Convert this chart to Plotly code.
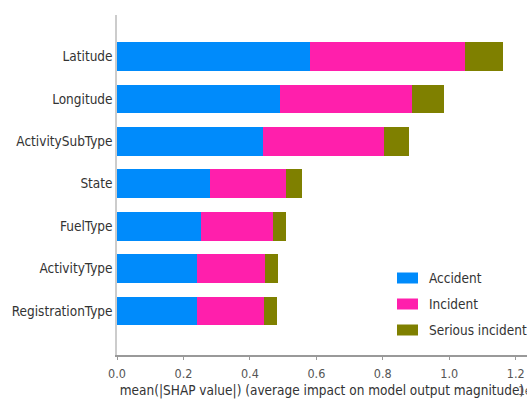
import plotly.graph_objects as go

# Features, bottom to top
features = ["RegistrationType", "ActivityType", "FuelType", "State",
            "ActivitySubType", "Longitude", "Latitude"]

# Mean |SHAP| per class
accident = [0.241, 0.241, 0.253, 0.279, 0.439, 0.491, 0.580]
incident = [0.202, 0.205, 0.217, 0.229, 0.365, 0.398, 0.468]
serious = [0.040, 0.040, 0.039, 0.050, 0.075, 0.095, 0.115]

class_names = ["Accident", "Incident", "Serious incident"]
class_colors = ["#008bfb", "#ff1fac", "#7f8000"]
x_ticks = [0.0, 0.2, 0.4, 0.6, 0.8, 1.0, 1.2]

FONT = "DejaVu Sans Condensed, Liberation Sans Narrow, sans-serif"
TXT = "#333333"

fig = go.Figure()
for name, vals, col in zip(class_names, [accident, incident, serious], class_colors):
    fig.add_trace(go.Bar(
        y=features, x=vals, name=name, orientation="h",
        marker=dict(color=col, line=dict(width=0)),
        width=0.68, showlegend=False,
    ))

fig.update_layout(
    barmode="stack",
    width=527, height=399,
    margin=dict(l=117, r=0, t=15, b=44, autoexpand=False),
    paper_bgcolor="white", plot_bgcolor="white",
    font=dict(family=FONT, color=TXT, size=14),
    xaxis=dict(
        range=[0, 1.234], tickvals=x_ticks,
        ticktext=[f"{v:.1f}" for v in x_ticks],
        showgrid=False, zeroline=False,
        showline=True, linecolor="#999999", linewidth=1.5,
        ticks="outside", ticklen=3, tickcolor="#999999",
        ticklabelstandoff=3,
        tickfont=dict(size=12.5, color="#555555"),
        title=dict(text="mean(|SHAP value|) (average impact on model output magnitude)",
                   font=dict(size=13.5, color=TXT), standoff=7),
    ),
    yaxis=dict(
        range=[-1.04, 6.98],
        showgrid=False, zeroline=False,
        showline=True, linecolor="#cccccc", linewidth=1.5,
        ticks="", tickfont=dict(size=13.5, color=TXT),
    ),
)

# Legend drawn as coloured swatches with labels, lower right
for i, (name, col) in enumerate(zip(class_names, class_colors)):
    yc = 278 + 26 * i
    fig.add_shape(type="rect", xref="paper", yref="paper",
                  x0=(397 - 117) / 410, x1=(418 - 117) / 410,
                  y0=(355 - (yc + 5.5)) / 340, y1=(355 - (yc - 5.5)) / 340,
                  fillcolor=col, line=dict(width=0))
    fig.add_annotation(xref="paper", yref="paper",
                       x=(427 - 117) / 410, y=(355 - yc) / 340,
                       text=name, showarrow=False, xanchor="left", yanchor="middle",
                       font=dict(size=13.5, color=TXT))

# Exponent offset label at the right end of the axis
fig.add_annotation(xref="paper", yref="paper", x=(516 - 117) / 410, y=-0.105,
                   text="1e-5", showarrow=False, xanchor="left", yanchor="middle",
                   font=dict(size=12, color="#555555"))

fig.write_html("out.html")
